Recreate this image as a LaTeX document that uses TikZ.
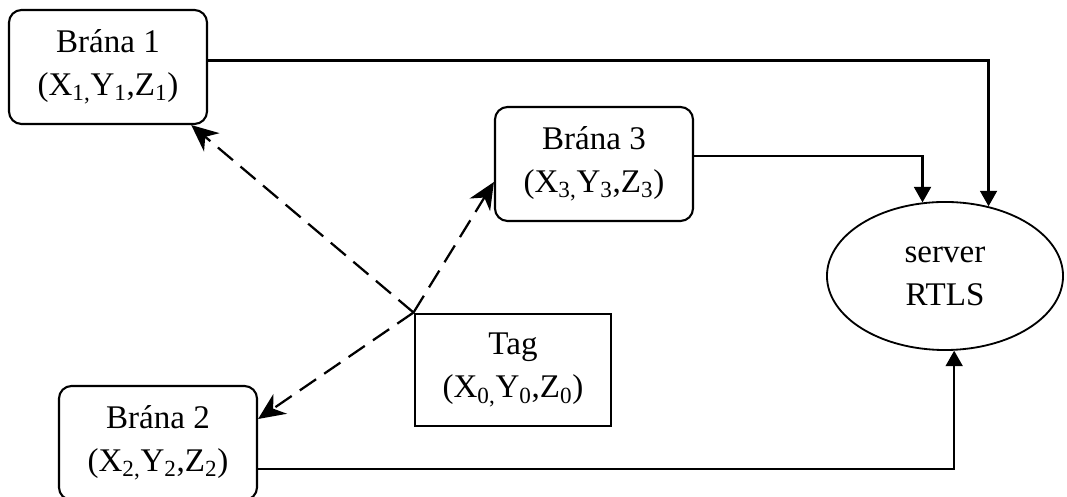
\documentclass[tikz,border=0pt]{standalone}
\usepackage{fontspec}
\setmainfont{Liberation Serif}
\usetikzlibrary{arrows.meta,shapes.geometric}

\begin{document}
\begin{tikzpicture}[x=0.025cm,y=0.025cm,
        font=\fontsize{23.5}{30.6}\selectfont,
        gate/.style={rectangle,draw,line width=1.5pt,rounded corners=9pt,minimum width=4.95cm,minimum height=2.85cm,align=center,inner sep=0pt},
        tagbox/.style={rectangle,draw,line width=1.5pt,minimum width=4.92cm,minimum height=2.82cm,align=center,inner sep=0pt},
        wire/.style={line width=1.6pt,-{Triangle[length=11pt,width=12pt]}},
        radio/.style={line width=1.6pt,dash pattern=on 14pt off 7pt,-{Stealth[length=19pt,width=17pt,inset=6pt]}}]
        \useasboundingbox (0,0) rectangle (1067,497);

        % Gateways and tag
        \node[gate] (b1) at (108,430) {Brána 1\\(X\textsubscript{1,}Y\textsubscript{1},Z\textsubscript{1})};
        \node[gate] (b3) at (594,333) {Brána 3\\(X\textsubscript{3,}Y\textsubscript{3},Z\textsubscript{3})};
        \node[gate] (b2) at (158,54) {Brána 2\\(X\textsubscript{2,}Y\textsubscript{2},Z\textsubscript{2})};
        \node[tagbox] (tag) at (513,127) {Tag\\(X\textsubscript{0,}Y\textsubscript{0},Z\textsubscript{0})};

        % Server
        \node[ellipse,draw,line width=1.3pt,minimum width=5.9cm,minimum height=3.7cm,inner sep=0pt,align=center] (server) at (945,221) {server\\RTLS};

        % Wired links to the server
        \draw[wire] ([yshift=0.16cm]b1.east) -| (server.58.7);
        \draw[wire] ([yshift=0.2cm]b3.east) -| (server.107.6);
        \draw[wire] ([yshift=-0.65cm]b2.east) -| (server.277);

        % Radio links from the tag
        \draw[radio] (tag.north west) -- ([xshift=-0.42cm]b1.south east);
        \draw[radio] (tag.north west) -- ([yshift=-0.45cm]b3.west);
        \draw[radio] (tag.north west) -- ([yshift=0.6cm]b2.east);
    \end{tikzpicture}
\end{document}
